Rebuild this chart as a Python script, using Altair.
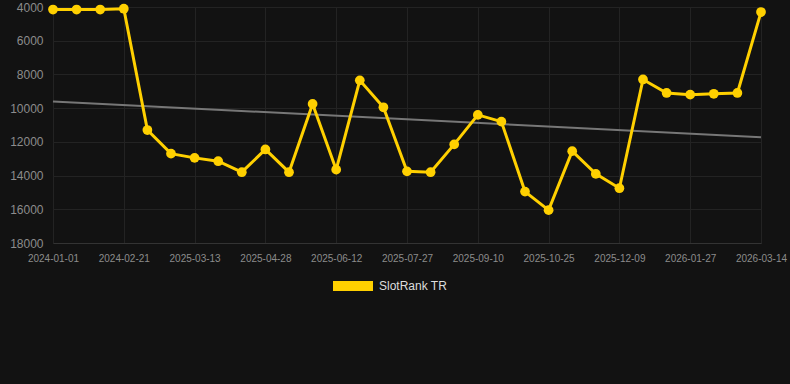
import altair as alt
import pandas as pd

# Rank values (lower is better), one per observation, evenly spaced
ranks = [4150, 4150, 4150, 4100, 11300, 12700, 12950, 13150, 13800, 12450,
         13800, 9750, 13650, 8350, 9950, 13750, 13800, 12150, 10400, 10800,
         14950, 16050, 12550, 13900, 14750, 8300, 9100, 9200, 9150, 9100, 4300]
# Tick labels shown on the x axis (every third observation)
tick_labels = ["2024-01-01", "2024-02-21", "2025-03-13", "2025-04-28", "2025-06-12",
               "2025-07-27", "2025-09-10", "2025-10-25", "2025-12-09", "2026-01-27",
               "2026-03-14"]
y_ticks = [4000, 6000, 8000, 10000, 12000, 14000, 16000, 18000]
series_name = "SlotRank TR"

df = pd.DataFrame({"i": list(range(len(ranks))), "rank": ranks, "series": series_name})

label_expr = "[" + ",".join(f"'{l}'" for l in tick_labels) + "][round(datum.value/3)]"

x = alt.X("i:Q", scale=alt.Scale(domain=[0, len(ranks) - 1], nice=False, zero=False),
          axis=alt.Axis(values=list(range(0, len(ranks), 3)), labelExpr=label_expr, title=None,
                        labelColor="#8c8c8c", labelFontSize=10, labelFont="Liberation Sans",
                        gridColor="#232323", domainColor="#333333", ticks=False, labelPadding=10,
                        labelFlush=False, labelOverlap=False))
y = alt.Y("rank:Q", scale=alt.Scale(domain=[4000, 18000], reverse=True, nice=False, zero=False),
          axis=alt.Axis(values=y_ticks, format="d", title=None,
                        labelColor="#8c8c8c", labelOverlap=False, tickCount=8,
                        labelFontSize=12, labelFont="Liberation Sans", gridColor="#232323",
                        domain=False, ticks=False, labelPadding=10))

color = alt.Color("series:N", scale=alt.Scale(range=["#FFD000"]),
                  legend=alt.Legend(title=None, orient="none", legendX=280, legendY=259,
                                    symbolType="M-1,-0.25 h2 v0.5 h-2 z", symbolSize=1600,
                                    symbolStrokeWidth=0, symbolOpacity=1,
                                    labelColor="#dddddd", labelFontSize=12,
                                    labelFont="Liberation Sans", labelOffset=6))

base = alt.Chart(df)
line = base.mark_line(strokeWidth=3).encode(x=x, y=y, color=color)
pts = base.mark_circle(size=95, opacity=1).encode(x=x, y=y, color=color)
trend = base.transform_regression("i", "rank").mark_line(color="#777777", strokeWidth=2).encode(
    x=x, y=y)

chart = alt.layer(trend, line, pts).properties(
    width=708, height=236, background="#121212",
    padding={"left": 53, "top": 7, "right": 29, "bottom": 141},
    autosize=alt.AutoSizeParams(type="none"),
).configure_view(stroke=None)

chart.save("out.html", embed_options={"renderer": "svg", "actions": False})
